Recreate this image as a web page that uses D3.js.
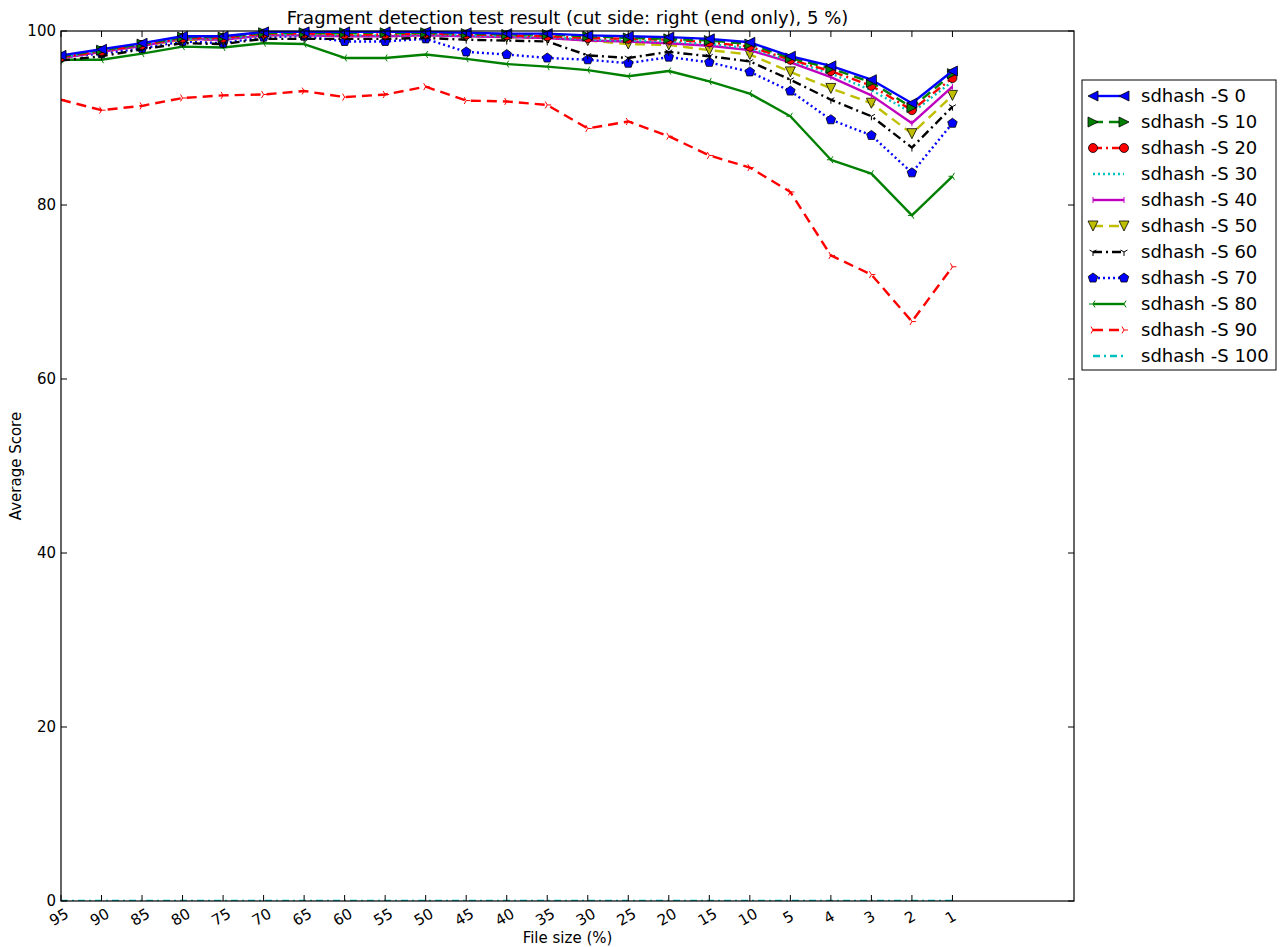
<!DOCTYPE html>
<html>
<head>
<meta charset="utf-8">
<script src="https://cdn.jsdelivr.net/npm/d3@7"></script>
<style>
  body { margin: 0; background: #fff; }
  svg { display: block; font-family: "DejaVu Sans", sans-serif; }
</style>
</head>
<body>
<script>
// File size categories along the x axis
const categories = ["95","90","85","80","75","70","65","60","55","50","45","40","35","30","25","20","15","10","5","4","3","2","1"];
const yTicks = [0, 20, 40, 60, 80, 100];

// Average score per sdhash -S setting
const s0   = [97.2, 97.9, 98.6, 99.4, 99.4, 99.9, 99.9, 99.9, 99.9, 99.9, 99.8, 99.7, 99.7, 99.5, 99.4, 99.3, 99.1, 98.7, 97.1, 96.0, 94.4, 91.7, 95.4];
const s10  = [97.1, 97.8, 98.5, 99.3, 99.3, 99.8, 99.8, 99.8, 99.8, 99.8, 99.7, 99.6, 99.6, 99.4, 99.2, 99.1, 98.9, 98.5, 96.9, 95.7, 94.1, 91.2, 95.1];
const s20  = [97.0, 97.7, 98.4, 99.2, 99.2, 99.7, 99.7, 99.6, 99.6, 99.7, 99.6, 99.5, 99.4, 99.2, 99.1, 99.0, 98.7, 98.2, 96.7, 95.4, 93.7, 90.9, 94.6];
const s30  = [97.0, 97.7, 98.4, 99.1, 99.1, 99.6, 99.6, 99.5, 99.5, 99.6, 99.5, 99.4, 99.3, 99.0, 98.9, 98.8, 98.5, 98.0, 96.6, 95.1, 93.2, 90.6, 94.2];
const s40  = [96.9, 97.6, 98.3, 99.1, 99.0, 99.5, 99.5, 99.4, 99.4, 99.5, 99.4, 99.3, 99.2, 98.9, 98.8, 98.6, 98.3, 97.8, 96.4, 94.7, 92.6, 89.4, 93.6];
const s50  = [96.9, 97.6, 98.3, 99.0, 99.0, 99.5, 99.6, 99.5, 99.5, 99.6, 99.4, 99.3, 99.2, 98.9, 98.5, 98.4, 97.8, 97.3, 95.3, 93.4, 91.7, 88.2, 92.6];
const s60  = [96.6, 97.1, 97.9, 98.6, 98.5, 99.1, 99.1, 99.1, 99.1, 99.2, 99.0, 98.9, 98.8, 97.2, 96.9, 97.6, 97.1, 96.5, 94.4, 92.1, 90.2, 86.6, 91.3];
const s70  = [97.0, 97.4, 98.0, 98.8, 98.6, 99.3, 99.4, 98.8, 98.8, 99.1, 97.6, 97.3, 96.9, 96.7, 96.3, 97.0, 96.4, 95.3, 93.1, 89.8, 88.0, 83.7, 89.4];
const s80  = [96.7, 96.7, 97.4, 98.2, 98.1, 98.6, 98.5, 96.9, 96.9, 97.3, 96.8, 96.2, 95.9, 95.5, 94.8, 95.4, 94.2, 92.8, 90.2, 85.2, 83.6, 78.8, 83.3];
const s90  = [92.1, 90.9, 91.4, 92.3, 92.6, 92.7, 93.1, 92.4, 92.7, 93.6, 92.0, 91.9, 91.5, 88.8, 89.6, 87.9, 85.7, 84.3, 81.5, 74.2, 72.0, 66.6, 72.9];
const s100 = [0, 0, 0, 0, 0, 0, 0, 0, 0, 0, 0, 0, 0, 0, 0, 0, 0, 0, 0, 0, 0, 0, 0];

const seriesNames = ["sdhash -S 0","sdhash -S 10","sdhash -S 20","sdhash -S 30","sdhash -S 40","sdhash -S 50","sdhash -S 60","sdhash -S 70","sdhash -S 80","sdhash -S 90","sdhash -S 100"];
const seriesValues = [s0, s10, s20, s30, s40, s50, s60, s70, s80, s90, s100];

// Line styling per series: colour, dash pattern, marker
const styles = [
  { color: "#0000ff", dash: null,        marker: "triLeftFill" },
  { color: "#008000", dash: "10,6",      marker: "triRightFill" },
  { color: "#ff0000", dash: "9,4,2,4",   marker: "circle" },
  { color: "#00bfbf", dash: "2,3",       marker: "none" },
  { color: "#bf00bf", dash: null,        marker: "vbar" },
  { color: "#bfbf00", dash: "10,6",      marker: "triDownFill" },
  { color: "#000000", dash: "9,4,2,4",   marker: "tri1" },
  { color: "#0000ff", dash: "2,3",       marker: "pentagon" },
  { color: "#008000", dash: null,        marker: "tri3" },
  { color: "#ff0000", dash: "10,6",      marker: "tri4" },
  { color: "#00bfbf", dash: "7,4,2,4",   marker: "none" }
];

const W = 1280, H = 947;
const margin = { left: 61, right: 206, top: 31, bottom: 46 };
const x0 = margin.left, x1 = W - margin.right, y0 = margin.top, y1 = H - margin.bottom;

const svg = d3.select("body").append("svg").attr("width", W).attr("height", H);

const x = d3.scaleLinear().domain([0, 25]).range([x0, x1]);
const y = d3.scaleLinear().domain([0, 100]).range([y1, y0]);

// Plot clipping
svg.append("clipPath").attr("id", "plotclip")
  .append("rect").attr("x", x0).attr("y", y0 - 8).attr("width", x1 - x0).attr("height", y1 - y0 + 8);

// Marker drawing helpers
function drawMarker(g, type, color, cx, cy, s) {
  const r = s;
  const sym = (pts) => g.append("path").attr("d", "M" + pts.map(p => p.join(",")).join("L") + "Z")
      .attr("fill", color).attr("stroke", "#000").attr("stroke-width", 0.8);
  if (type === "triLeftFill") sym([[cx - r, cy], [cx + r, cy - r], [cx + r, cy + r]]);
  else if (type === "triRightFill") sym([[cx + r, cy], [cx - r, cy - r], [cx - r, cy + r]]);
  else if (type === "triDownFill") sym([[cx, cy + r], [cx - r, cy - r], [cx + r, cy - r]]);
  else if (type === "circle") g.append("circle").attr("cx", cx).attr("cy", cy).attr("r", r * 0.9)
      .attr("fill", color).attr("stroke", "#000").attr("stroke-width", 0.8);
  else if (type === "pentagon") {
    const pts = d3.range(5).map(i => {
      const a = -Math.PI / 2 + i * 2 * Math.PI / 5;
      return [cx + r * Math.cos(a), cy + r * Math.sin(a)];
    });
    sym(pts);
  } else if (type === "vbar") {
    g.append("line").attr("x1", cx).attr("x2", cx).attr("y1", cy - r * 0.6).attr("y2", cy + r * 0.6)
      .attr("stroke", color).attr("stroke-width", 1);
  } else if (type.startsWith("tri")) {
    // three-armed markers: tri1 = down, tri3 = left, tri4 = right
    const base = { tri1: Math.PI / 2, tri3: Math.PI, tri4: 0 }[type];
    for (let i = 0; i < 3; i++) {
      const a = base + i * 2 * Math.PI / 3;
      g.append("line").attr("x1", cx).attr("y1", cy)
        .attr("x2", cx + r * 0.8 * Math.cos(a)).attr("y2", cy + r * 0.8 * Math.sin(a))
        .attr("stroke", color).attr("stroke-width", 1);
    }
  }
}

// Series lines and markers
const line = d3.line().x((d, i) => x(i)).y(d => y(d));
const plot = svg.append("g").attr("clip-path", "url(#plotclip)");
for (let k = seriesValues.length - 1; k >= 0; k--) {
  const st = styles[k];
  const g = plot.append("g");
  g.append("path").datum(seriesValues[k]).attr("d", line)
    .attr("fill", "none").attr("stroke", st.color).attr("stroke-width", 2.4)
    .attr("stroke-dasharray", st.dash).attr("stroke-linejoin", "round");
  if (st.marker !== "none") {
    seriesValues[k].forEach((v, i) => drawMarker(g, st.marker, st.color, x(i), y(v), 5));
  }
}

// Frame
svg.append("rect").attr("x", x0).attr("y", y0).attr("width", x1 - x0).attr("height", y1 - y0)
  .attr("fill", "none").attr("stroke", "#000").attr("stroke-width", 1.2);

// Inward ticks on all four sides
const tickLen = 6;
const axes = svg.append("g").attr("stroke", "#000").attr("stroke-width", 1);
categories.forEach((c, i) => {
  axes.append("line").attr("x1", x(i)).attr("x2", x(i)).attr("y1", y1).attr("y2", y1 - tickLen);
  axes.append("line").attr("x1", x(i)).attr("x2", x(i)).attr("y1", y0).attr("y2", y0 + tickLen);
});
yTicks.forEach(t => {
  axes.append("line").attr("x1", x0).attr("x2", x0 + tickLen).attr("y1", y(t)).attr("y2", y(t));
  axes.append("line").attr("x1", x1).attr("x2", x1 - tickLen).attr("y1", y(t)).attr("y2", y(t));
});

// Tick labels
svg.append("g").selectAll("text").data(yTicks).join("text")
  .attr("x", x0 - 5).attr("y", d => y(d)).attr("dy", "0.35em")
  .attr("text-anchor", "end").attr("font-size", 15).text(d => d);

svg.append("g").selectAll("text").data(categories).join("text")
  .attr("transform", (d, i) => `translate(${x(i) - 2},${y1 + 16}) rotate(-30)`)
  .attr("text-anchor", "middle").attr("dy", "0.35em").attr("font-size", 15).text(d => d);

// Title and axis labels
svg.append("text").attr("x", (x0 + x1) / 2).attr("y", 24).attr("text-anchor", "middle")
  .attr("font-size", 18).text("Fragment detection test result (cut side: right (end only), 5 %)");
svg.append("text").attr("x", (x0 + x1) / 2).attr("y", 943).attr("text-anchor", "middle")
  .attr("font-size", 15).text("File size (%)");
svg.append("text").attr("transform", `translate(21,${(y0 + y1) / 2}) rotate(-90)`)
  .attr("text-anchor", "middle").attr("font-size", 15).text("Average Score");

// Legend
const lx = 1082, ly = 80, lw = 194, lh = 290, rowH = 26;
const legend = svg.append("g");
legend.append("rect").attr("x", lx).attr("y", ly).attr("width", lw).attr("height", lh)
  .attr("fill", "#fff").attr("stroke", "#000").attr("stroke-width", 1);
seriesNames.forEach((name, k) => {
  const st = styles[k];
  const cy = ly + 16 + k * rowH;
  const g = legend.append("g");
  g.append("line").attr("x1", lx + 11).attr("x2", lx + 42).attr("y1", cy).attr("y2", cy)
    .attr("stroke", st.color).attr("stroke-width", 2.4).attr("stroke-dasharray", st.dash);
  if (st.marker !== "none") {
    drawMarker(g, st.marker, st.color, lx + 11, cy, 5);
    drawMarker(g, st.marker, st.color, lx + 42, cy, 5);
  }
  g.append("text").attr("x", lx + 59).attr("y", cy).attr("dy", "0.36em")
    .attr("font-size", 18).text(name);
});
</script>
</body>
</html>
